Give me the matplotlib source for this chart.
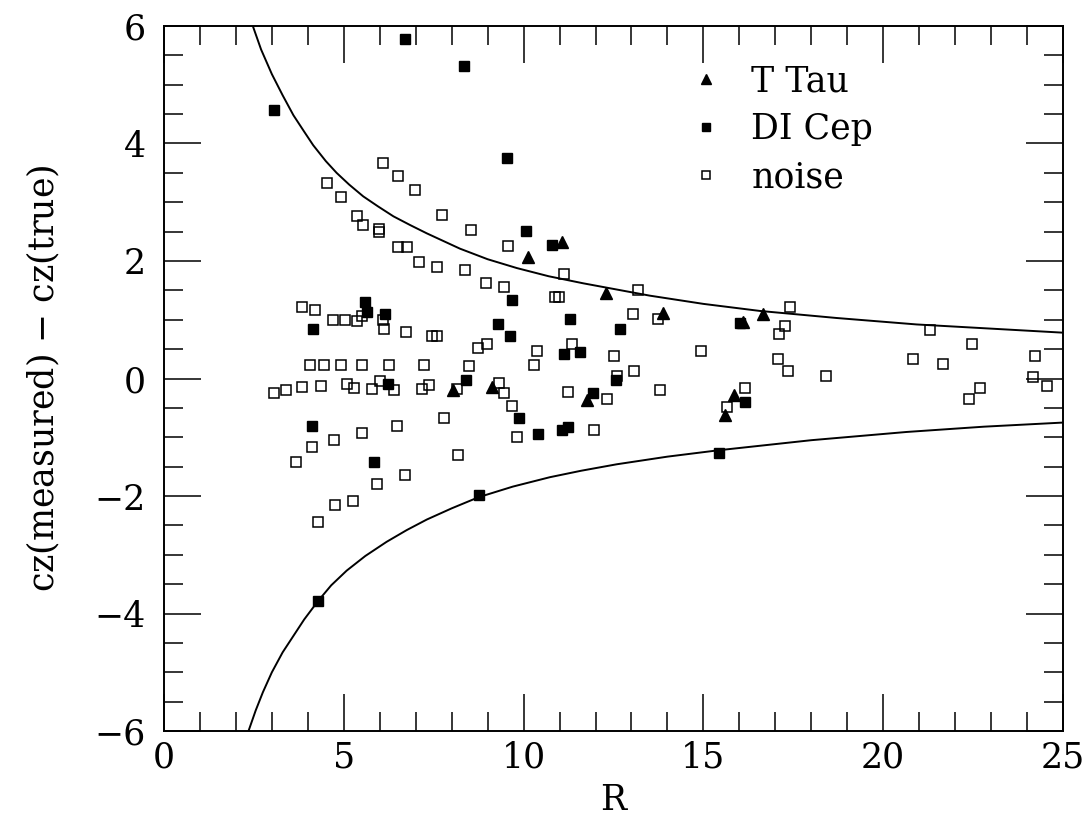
import numpy as np
import matplotlib
matplotlib.use("Agg")
import matplotlib.pyplot as plt
from matplotlib.ticker import MultipleLocator

plt.rcParams['font.family'] = ['DejaVu Serif']

# T Tau points (R, residual)
ttau_R = [8.05, 9.13, 10.12, 11.08, 11.77, 12.28, 13.88, 15.59, 15.84, 16.09, 16.65]
ttau_dz = [-0.20, -0.14, 2.06, 2.32, -0.37, 1.45, 1.12, -0.62, -0.28, 0.97, 1.10]

# DI Cep points
dicep_R = [3.07, 4.12, 4.14, 4.28, 5.58, 5.65, 5.83, 6.14, 6.22, 6.69, 8.35, 8.40,
           8.75, 9.29, 9.54, 9.62, 9.68, 9.88, 10.07, 10.39, 10.78, 11.08, 11.12,
           11.23, 11.30, 11.57, 11.94, 12.56, 12.69, 15.44, 16.03, 16.17]
dicep_dz = [4.57, -0.80, 0.84, -3.79, 1.31, 1.13, -1.42, 1.10, -0.09, 5.77, 5.32, -0.03,
            -1.99, 0.92, 3.75, 0.72, 1.34, -0.68, 2.51, -0.95, 2.27, -0.87, 0.41,
            -0.83, 1.01, 0.45, -0.24, -0.03, 0.84, -1.27, 0.94, -0.40]

# noise points
noise_R = [3.05, 3.39, 3.68, 3.83, 3.83, 4.05, 4.12, 4.21, 4.28, 4.37, 4.44, 4.54,
           4.69, 4.73, 4.76, 4.93, 4.93, 5.03, 5.08, 5.26, 5.28, 5.36, 5.38, 5.51,
           5.51, 5.51, 5.54, 5.78, 5.92, 5.98, 5.98, 6.02, 6.08, 6.09, 6.12, 6.25,
           6.40, 6.47, 6.51, 6.51, 6.70, 6.72, 6.77, 6.99, 7.10, 7.17, 7.22, 7.36,
           7.45, 7.58, 7.60, 7.73, 7.79, 8.16, 8.17, 8.37, 8.48, 8.54, 8.72, 8.96,
           8.99, 9.32, 9.45, 9.46, 9.58, 9.67, 9.83, 10.30, 10.36, 10.87, 10.99, 11.12,
           11.23, 11.34, 11.96, 12.32, 12.52, 12.59, 13.05, 13.07, 13.19, 13.73, 13.78,
           14.93, 15.66, 16.16, 17.08, 17.10, 17.26, 17.34, 17.42, 18.41, 20.84, 21.29,
           21.67, 22.40, 22.48, 22.68, 24.18, 24.23, 24.56]
noise_dz = [-0.25, -0.19, -1.42, 1.21, -0.14, 0.23, -1.17, 1.16, -2.45, -0.13, 0.23, 3.33,
            1.00, -1.04, -2.15, 3.09, 0.23, 1.00, -0.09, -2.09, -0.17, 0.98, 2.77, 1.07,
            0.23, -0.92, 2.62, -0.18, -1.79, 2.54, 2.49, -0.05, 0.99, 3.66, 0.85, 0.23,
            -0.20, -0.80, 3.45, 2.23, -1.64, 0.79, 2.23, 3.20, 1.99, -0.18, 0.23, -0.11,
            0.72, 0.72, 1.89, 2.78, -0.67, -0.18, -1.31, 1.84, 0.22, 2.53, 0.52, 1.62,
            0.59, -0.08, -0.24, 1.56, 2.26, -0.46, -1.00, 0.23, 0.47, 1.38, 1.39, 1.78,
            -0.23, 0.59, -0.87, -0.35, 0.38, 0.04, 1.09, 0.13, 1.51, 1.01, -0.20,
            0.47, -0.49, -0.16, 0.33, 0.75, 0.90, 0.13, 1.21, 0.05, 0.33, 0.83,
            0.24, -0.35, 0.59, -0.17, 0.03, 0.39, -0.13]

# envelope curves
upper_R = [2.47, 2.70, 3.00, 3.30, 3.60, 3.90, 4.15, 4.50, 4.80, 5.15, 5.54, 5.95, 6.38,
           6.85, 7.31, 8.23, 9.00, 9.81, 10.7, 11.66, 13.51, 15.0, 16.57, 18.7, 20.93, 25.0]
upper_dz = [6.00, 5.60, 5.18, 4.82, 4.48, 4.20, 3.97, 3.70, 3.50, 3.30, 3.10, 2.93, 2.76,
            2.61, 2.47, 2.21, 2.03, 1.88, 1.74, 1.62, 1.41, 1.27, 1.15, 1.03, 0.92, 0.78]
lower_R = [2.35, 2.55, 2.75, 3.00, 3.30, 3.60, 3.90, 4.28, 4.65, 5.08, 5.60, 6.19, 6.75,
           7.31, 8.00, 8.75, 9.70, 10.73, 11.6, 12.59, 14.0, 15.44, 18.0, 20.65, 22.8, 25.0]
lower_dz = [-6.00, -5.65, -5.34, -5.00, -4.66, -4.38, -4.10, -3.79, -3.52, -3.27, -3.02, -2.78, -2.58,
            -2.40, -2.21, -2.02, -1.84, -1.68, -1.57, -1.46, -1.33, -1.22, -1.05, -0.91, -0.82, -0.75]

fig = plt.figure(figsize=(10.86, 8.19), dpi=100)
ax = fig.add_axes([0.151, 0.1074, 0.8278, 0.8609])

ax.plot(upper_R, upper_dz, color='black', lw=1.4)
ax.plot(lower_R, lower_dz, color='black', lw=1.4)

ax.plot(noise_R, noise_dz, ls='none', marker='s', ms=7, mfc='none', mec='black', mew=1.1, label='noise')
ax.plot(dicep_R, dicep_dz, ls='none', marker='s', ms=7, color='black', label='DI Cep')
ax.plot(ttau_R, ttau_dz, ls='none', marker='^', ms=8.5, color='black', label='T Tau')

ax.set_xlim(0, 25)
ax.set_ylim(-6, 6)
ax.xaxis.set_major_locator(MultipleLocator(5))
ax.xaxis.set_minor_locator(MultipleLocator(1))
ax.yaxis.set_major_locator(MultipleLocator(2))
ax.yaxis.set_minor_locator(MultipleLocator(0.5))
ax.tick_params(which='both', direction='in', top=True, right=True, width=1.1, labelsize=25)
ax.tick_params(which='major', length=26.5)
ax.tick_params(which='minor', length=13.5)
ax.tick_params(axis='x', pad=7)
ax.tick_params(axis='y', pad=13)
for s in ax.spines.values():
    s.set_linewidth(1.4)

ax.set_xlabel('R', fontsize=25, labelpad=6)
ax.set_ylabel('cz(measured) $-$ cz(true)', fontsize=25)
ax.yaxis.set_label_coords(-0.113, 0.5)

h, l = ax.get_legend_handles_labels()
ax.legend(h[::-1], l[::-1], loc='upper left', bbox_to_anchor=(0.553, 0.99), frameon=False,
          fontsize=25, handlelength=0.8, handletextpad=0.9, labelspacing=0.4, markerscale=0.9)

fig.savefig('out.png', dpi=100)
